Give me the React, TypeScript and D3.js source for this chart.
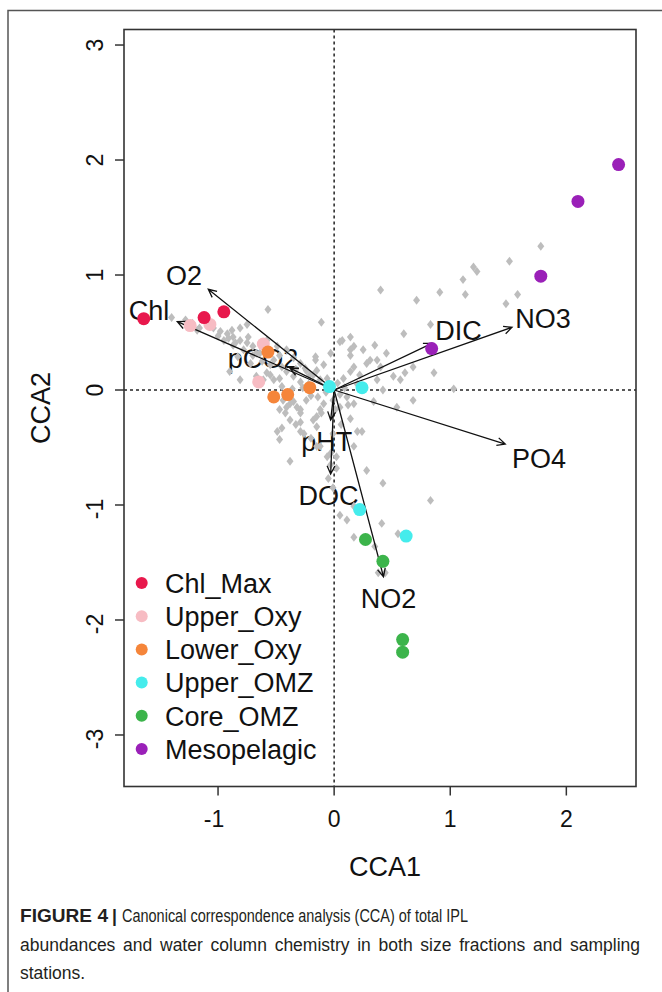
import * as d3 from "d3";
import React, { useEffect, useRef } from "react";

// site groups (legend order) and their colours
const groups = ["Chl_Max", "Upper_Oxy", "Lower_Oxy", "Upper_OMZ", "Core_OMZ", "Mesopelagic"];
const groupColors = ["#e8184c", "#f7bcc3", "#f5853a", "#45ecec", "#3cb44b", "#9a20b8"];

// site scores, one list per group
const chlMax = [[-1.64, 0.62], [-1.12, 0.63], [-0.95, 0.68]];
const upperOxy = [[-1.24, 0.56], [-1.07, 0.57], [-0.61, 0.4], [-0.65, 0.07]];
const lowerOxy = [[-0.57, 0.33], [-0.52, -0.06], [-0.4, -0.04], [-0.21, 0.02]];
const upperOMZ = [[-0.04, 0.03], [0.24, 0.02], [0.22, -1.04], [0.62, -1.27]];
const coreOMZ = [[0.27, -1.3], [0.42, -1.49], [0.59, -2.17], [0.59, -2.28]];
const mesopelagic = [[2.45, 1.96], [2.1, 1.64], [1.78, 0.99], [0.84, 0.36]];
const siteLists = [chlMax, upperOxy, lowerOxy, upperOMZ, coreOMZ, mesopelagic];
const drawOrder = [1, 2, 0, 3, 4, 5];

// species (IPL) scores, grey diamonds
const speciesScores = [
  [-1.4, 0.63], [-1.28, 0.61], [-1.22, 0.58], [-1.16, 0.54], [-1.1, 0.59], [-1.18, 0.52],
  [-1.04, 0.54], [-0.98, 0.51], [-0.92, 0.49], [-0.87, 0.46], [-0.81, 0.43], [-0.75, 0.41],
  [-0.95, 0.43], [-0.87, 0.39], [-0.78, 0.35], [-0.7, 0.38], [-0.67, 0.32], [-0.74, 0.46],
  [-0.81, 0.54], [-0.88, 0.52], [-0.75, 0.57], [-0.57, 0.7], [-0.58, 0.43], [-0.49, 0.38],
  [-0.47, 0.3], [-0.41, 0.35], [-0.35, 0.28], [-0.29, 0.23], [-0.24, 0.17], [-0.18, 0.13],
  [-0.12, 0.09], [-0.67, 0.12], [-0.58, 0.15], [-0.52, 0.09], [-0.45, 0.03], [-0.42, -0.06],
  [-0.38, -0.12], [-0.32, -0.15], [-0.29, -0.2], [-0.11, 0.59], [0.07, 0.43], [0.14, 0.35],
  [0.17, 0.2], [-0.01, -0.09], [0.05, -0.15], [-0.91, 0.45], [0.05, 0.42], [0.17, 0.38],
  [0.35, 0.39], [0.14, 0.3], [0.25, 0.35], [0.28, 0.23], [0.37, 0.26], [0.45, 0.32],
  [-0.03, 0.32], [-0.09, 0.22], [-0.15, 0.17], [-0.16, 0.26], [-0.25, 0.19], [-0.21, 0.13],
  [-0.64, 0.32], [-0.52, 0.26], [-0.45, 0.2], [-0.41, 0.16], [-0.35, 0.12], [-0.29, 0.07],
  [-0.55, 0.13], [-0.47, 0.1], [-0.72, 0.23], [-0.83, 0.29], [-0.9, 0.16], [-0.81, 0.09],
  [-0.61, 0.09], [-0.36, 0.01], [-0.44, -0.09], [-0.41, -0.15], [-0.42, -0.2], [-0.38, -0.26],
  [-0.45, -0.33], [-0.49, -0.36], [-0.29, -0.36], [-0.15, -0.32], [-0.09, -0.12], [-0.11, -0.2],
  [-0.15, -0.23], [-0.24, -0.09], [-0.29, -0.17], [-0.35, -0.1], [-0.47, -0.43], [-0.38, -0.62],
  [-0.12, -0.49], [-0.03, -0.55], [-0.01, -0.38], [0.2, -0.36], [0.24, -0.36], [0.17, -0.49],
  [0.28, -0.7], [0.42, -0.81], [0.11, -0.06], [0.17, -0.12], [0.34, -0.1], [0.42, 0.0],
  [0.37, 0.09], [0.14, 0.16], [0.22, 0.13], [-0.47, -0.17], [-0.26, -0.38], [-0.29, -0.28],
  [-0.18, -0.26], [-0.12, -0.17], [0.01, -0.17], [0.12, -0.13], [0.14, -0.25], [-0.06, -0.58],
  [0.02, -0.58], [-0.03, -0.65], [0.02, -0.68], [0.83, -0.96], [0.05, -1.09], [0.11, -1.13],
  [0.17, -1.01], [0.41, -1.16], [0.17, -1.28], [0.35, -1.36], [0.55, -1.25], [0.42, -1.51],
  [0.38, -1.59], [0.44, -1.59], [-0.05, -0.77], [-0.01, -0.85], [1.78, 1.25], [1.51, 1.12],
  [1.2, 1.07], [1.23, 1.03], [1.11, 0.96], [0.91, 0.85], [0.71, 0.78], [0.4, 0.87],
  [1.13, 0.83], [1.58, 0.83], [1.48, 0.75], [0.83, 0.57], [0.6, 0.49], [0.14, 0.46],
  [0.31, 0.26], [0.4, 0.2], [0.51, 0.12], [0.57, 0.09], [0.68, 0.2], [0.61, 0.15],
  [0.86, 0.15], [1.03, 0.01], [0.68, -0.09], [0.54, -0.15], [-0.16, 0.29], [-0.15, -0.49],
  [-0.07, -0.02], [-0.14, -0.06], [0.05, -0.04], [0.09, 0.02], [0.03, 0.06],
  [-1.0, 0.47], [-0.85, 0.41], [-0.7, 0.3], [-0.62, 0.25], [-0.55, 0.22], [-0.33, 0.18],
  [-0.27, 0.02], [-0.2, -0.05], [-0.22, 0.05], [-0.06, 0.1], [0.08, 0.1], [0.2, 0.05],
  [-0.33, -0.3], [-0.2, -0.42], [0.06, -0.3],
];

// environmental biplot arrows and where R put their labels
const envVars = ["O2", "Chl", "pCO2", "DIC", "NO3", "PO4", "pHT", "DOC", "NO2"];
const envX = [-1.084, -1.351, -0.38, 0.842, 1.532, 1.474, -0.03, -0.03, 0.425];
const envY = [0.876, 0.594, 0.19, 0.406, 0.545, -0.47, -0.26, -0.73, -1.624];
const labelX = [-1.293, -1.595, -0.612, 1.072, 1.8, 1.765, -0.063, -0.049, 0.468];
const labelY = [1.0, 0.696, 0.278, 0.522, 0.626, -0.594, -0.45, -0.913, -1.811];

const xTicks = [-1, 0, 1, 2];
const yTicks = [-3, -2, -1, 0, 1, 2, 3];

const captionLine1 = "Canonical correspondence analysis (CCA) of total IPL";
const captionLine2 = "abundances and water column chemistry in both size fractions and sampling";
const captionLine3 = "stations.";

const font = "'Liberation Sans', Arial, sans-serif";
const capFont = "'Liberation Sans Narrow', 'Liberation Sans', Arial, sans-serif";

const box = { left: 124, right: 636, top: 29.5, bottom: 786.5 };

const x = d3.scaleLinear().domain([-1.81, 2.6]).range([box.left, box.right]);
const y = d3.scaleLinear().domain([-3.448, 3.135]).range([box.bottom, box.top]);

const diamond = d3.symbol().type(d3.symbolDiamond).size(32);

function arrowPath(x1: number, y1: number) {
  const x0 = x(0), y0 = y(0);
  const px = x(x1), py = y(y1);
  const a = Math.atan2(py - y0, px - x0);
  const len = 9, spread = Math.PI / 7;
  const h1 = [px - len * Math.cos(a - spread), py - len * Math.sin(a - spread)];
  const h2 = [px - len * Math.cos(a + spread), py - len * Math.sin(a + spread)];
  return `M${x0},${y0}L${px},${py}M${h1[0]},${h1[1]}L${px},${py}L${h2[0]},${h2[1]}`;
}

const App = () => {
  const line1Ref = useRef<SVGTextElement>(null);
  const line2Ref = useRef<SVGTextElement>(null);

  // justify caption: squeeze line 1 if too wide, stretch word gaps of line 2
  useEffect(() => {
    const l1 = line1Ref.current;
    if (l1) {
      const w = l1.getComputedTextLength();
      if (w > 346) d3.select(l1).attr("textLength", 346).attr("lengthAdjust", "spacingAndGlyphs");
    }
    const l2 = line2Ref.current;
    if (l2) {
      const w = l2.getComputedTextLength();
      const gaps = captionLine2.split(" ").length - 1;
      if (w < 620) d3.select(l2).attr("word-spacing", (620 - w) / gaps);
      else d3.select(l2).attr("textLength", 620).attr("lengthAdjust", "spacingAndGlyphs");
    }
  }, []);

  return (
    <svg width={662} height={992} style={{ position: "absolute", left: 0, top: 0, background: "#fff" }}>
      <path d="M8,992V10.5H662" fill="none" stroke="#555" strokeWidth={1.5} />

      {/* zero lines */}
      <line x1={x(0)} x2={x(0)} y1={box.top} y2={box.bottom} stroke="#222" strokeWidth={1.5} strokeDasharray="3,3" />
      <line x1={box.left} x2={box.right} y1={y(0)} y2={y(0)} stroke="#222" strokeWidth={1.5} strokeDasharray="3,3" />

      {/* arrow labels */}
      {envVars.map((v, i) => (
        <text key={v} x={x(labelX[i])} y={y(labelY[i])} dy="0.36em" textAnchor="middle"
          fontFamily={font} fontSize={27} fill="#111">{v}</text>
      ))}

      {/* species */}
      {speciesScores.map((d, i) => (
        <path key={i} d={diamond() as string} transform={`translate(${x(d[0])},${y(d[1])}) scale(1.15,0.85)`} fill="#bdbdbd" />
      ))}

      {/* arrows */}
      {envVars.map((v, i) => (
        <path key={v} d={arrowPath(envX[i], envY[i])} fill="none" stroke="#111" strokeWidth={1.3} />
      ))}

      {/* sites */}
      {drawOrder.map((g) =>
        siteLists[g].map((d, j) => (
          <circle key={`${g}-${j}`} cx={x(d[0])} cy={y(d[1])} r={6.5} fill={groupColors[g]} />
        ))
      )}

      {/* frame */}
      <rect x={box.left} y={box.top} width={box.right - box.left} height={box.bottom - box.top}
        fill="none" stroke="#333" strokeWidth={1.6} />

      {/* x axis */}
      {xTicks.map((t) => (
        <g key={t}>
          <line x1={x(t)} x2={x(t)} y1={box.bottom} y2={box.bottom + 9} stroke="#333" strokeWidth={1.5} />
          <text x={x(t) - (t < 0 ? 4 : 0)} y={826.5} textAnchor="middle" fontFamily={font} fontSize={23} fill="#111">
            {t < 0 ? `-${-t}` : t}
          </text>
        </g>
      ))}
      <text x={385} y={876} textAnchor="middle" fontFamily={font} fontSize={27} fill="#111">CCA1</text>

      {/* y axis */}
      {yTicks.map((t) => (
        <g key={t}>
          <line x1={box.left - 9} x2={box.left} y1={y(t)} y2={y(t)} stroke="#333" strokeWidth={1.5} />
          <text transform={`translate(103.3,${y(t) + (t < 0 ? 4 : 0)}) rotate(-90)`} textAnchor="middle"
            fontFamily={font} fontSize={23} fill="#111">
            {t < 0 ? `-${-t}` : t}
          </text>
        </g>
      ))}
      <text transform={`translate(50,${(box.top + box.bottom) / 2}) rotate(-90)`} textAnchor="middle"
        fontFamily={font} fontSize={27} fill="#111">CCA2</text>

      {/* legend */}
      {groups.map((g, i) => (
        <g key={g}>
          <circle cx={141.7} cy={583 + i * 33.2} r={6} fill={groupColors[i]} />
          <text x={165} y={583 + i * 33.2} dy="0.36em" fontFamily={font} fontSize={27} fill="#111">{g}</text>
        </g>
      ))}

      {/* caption */}
      <text x={20} y={922} fontFamily={capFont} fontSize={17.5} fontWeight="bold" fill="#231f20"
        textLength={88} lengthAdjust="spacingAndGlyphs">FIGURE 4</text>
      <text x={112} y={922} fontFamily={capFont} fontSize={17.5} fontWeight="bold" fill="#231f20">|</text>
      <text ref={line1Ref} x={122} y={922} fontFamily={capFont} fontSize={17.5} fill="#231f20">{captionLine1}</text>
      <text ref={line2Ref} x={20} y={951} fontFamily={capFont} fontSize={17.5} fill="#231f20">{captionLine2}</text>
      <text x={20} y={979} fontFamily={capFont} fontSize={17.5} fill="#231f20">{captionLine3}</text>
    </svg>
  );
};

export default App;
